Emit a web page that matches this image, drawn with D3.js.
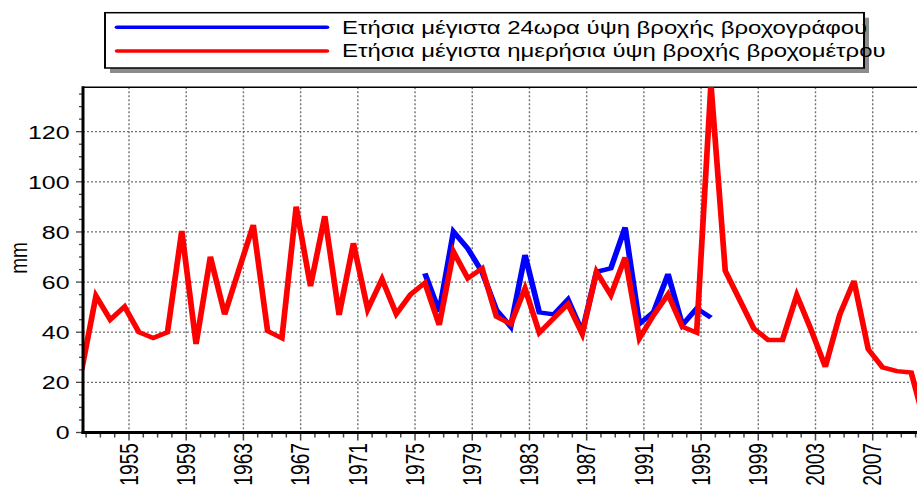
<!DOCTYPE html>
<html>
<head>
<meta charset="utf-8">
<script src="https://cdn.jsdelivr.net/npm/d3@7"></script>
<style>
  html, body { margin: 0; padding: 0; background: #fff; }
  svg { display: block; }
  text { font-family: "Liberation Sans", Arial, sans-serif; fill: #000; }
</style>
</head>
<body>
<svg id="chart"></svg>
<script>
// ---------------- data ----------------
const redYears = d3.range(1952, 2012);
const redValues = [
  25, 54.5, 45, 50.2, 40, 37.7, 40, 80.4, 35.3, 70.1,
  47.1, 65, 82.8, 40.5, 37.6, 90.1, 58.4, 86.3, 46.9, 75.5,
  49.1, 61.2, 47.3, 55.1, 59.7, 42.9, 72.1, 61.5, 65.5, 46.2,
  43.3, 57.5, 39.8, 45.5, 51.2, 39.3, 64.1, 54.8, 69.9, 37.6,
  46.9, 55.1, 42.2, 39.8, 139, 64.5, 53, 41.5, 36.9, 36.9,
  54.8, 41, 26.2, 46.9, 60.5, 33.2, 26, 24.5, 23.9, 3
];
const blueYears = d3.range(1976, 1997);
const blueValues = [
  63.5, 48.2, 80.1, 73.4, 64, 48.9, 42.2, 70.8, 47.9, 47.1,
  53.1, 40.2, 64.1, 65.5, 81.8, 43.3, 48.2, 63.2, 42.9, 49.5, 45.8
];
const yTicks = [0, 20, 40, 60, 80, 100, 120];
const xTickYears = d3.range(1955, 2008, 4);
const legendLabels = [
  "Ετήσια μέγιστα 24ωρα ύψη βροχής βροχογράφου",
  "Ετήσια μέγιστα ημερήσια ύψη βροχής βροχομέτρου"
];
const seriesColors = ["#0000ff", "#ff0000"];

// ---------------- layout ----------------
const W = 917, H = 486;
const S = 1.3;                 // horizontal stretch of the picture
const X = p => p / S;          // screen px -> viewBox units
const plot = { left: 83, right: 940, top: 87.3, bottom: 432.5 };
const yearShift = 0.31;        // data points sit slightly before the year tick

const svg = d3.select("#chart")
  .attr("width", W).attr("height", H)
  .attr("viewBox", `0 0 ${W / S} ${H}`)
  .attr("preserveAspectRatio", "none");

const x = d3.scaleLinear().domain([1955, 2007]).range([X(129), X(872.7)]);
const y = d3.scaleLinear().domain([0, 137.7]).range([plot.bottom, plot.top]);

svg.append("defs").append("clipPath").attr("id", "clip")
  .append("rect")
  .attr("x", X(plot.left)).attr("y", plot.top)
  .attr("width", X(plot.right) - X(plot.left))
  .attr("height", plot.bottom - plot.top);

// gridlines
const grid = svg.append("g").attr("stroke", "#707070");
grid.selectAll("line.h").data(yTicks.filter(d => d > 0)).join("line")
  .attr("x1", X(plot.left)).attr("x2", X(plot.right))
  .attr("y1", d => y(d)).attr("y2", d => y(d))
  .attr("stroke-width", 1.3)
  .attr("stroke-dasharray", `${X(2)},${X(2)}`);
grid.selectAll("line.v").data(xTickYears).join("line")
  .attr("x1", d => x(d)).attr("x2", d => x(d))
  .attr("y1", plot.top).attr("y2", plot.bottom)
  .attr("stroke-width", X(1.4))
  .attr("stroke-dasharray", "2,2");

// top border
svg.append("line")
  .attr("x1", X(plot.left)).attr("x2", X(plot.right))
  .attr("y1", plot.top).attr("y2", plot.top)
  .attr("stroke", "#000").attr("stroke-width", 1.6);

// series
const line = d3.line().x(d => x(d[0] - yearShift)).y(d => y(d[1]));
const lines = svg.append("g").attr("clip-path", "url(#clip)");
lines.append("path")
  .datum(d3.zip(blueYears, blueValues))
  .attr("d", line).attr("fill", "none")
  .attr("stroke", seriesColors[0]).attr("stroke-width", 4.4)
  .attr("stroke-linejoin", "miter");
lines.append("path")
  .datum(d3.zip(redYears, redValues))
  .attr("d", line).attr("fill", "none")
  .attr("stroke", seriesColors[1]).attr("stroke-width", 4.4)
  .attr("stroke-linejoin", "miter");

// y axis
const yMinor = d3.range(0, 138, 5);
svg.append("g").selectAll("line").data(yMinor).join("line")
  .attr("x1", d => X(d % 20 === 0 ? 76 : 79)).attr("x2", X(plot.left))
  .attr("y1", d => y(d)).attr("y2", d => y(d))
  .attr("stroke", "#444").attr("stroke-width", 1.3);
svg.append("line")
  .attr("x1", X(plot.left)).attr("x2", X(plot.left))
  .attr("y1", plot.top - 1).attr("y2", plot.bottom + 1.5)
  .attr("stroke", "#000").attr("stroke-width", X(3));
svg.append("g").selectAll("text").data(yTicks).join("text")
  .attr("x", X(69.5)).attr("y", d => y(d)).attr("dy", "0.36em")
  .attr("text-anchor", "end").attr("font-size", 19.2)
  .text(d => d);
svg.append("text")
  .attr("transform", `translate(${X(18)},258) rotate(-90)`)
  .attr("text-anchor", "middle").attr("dy", "0.35em")
  .attr("font-size", 19).text("mm");

// x axis
const xMinor = d3.range(1952, 2012);
svg.append("g").selectAll("line").data(xMinor).join("line")
  .attr("x1", d => x(d)).attr("x2", d => x(d))
  .attr("y1", plot.bottom)
  .attr("y2", d => plot.bottom + (xTickYears.includes(d) ? 8 : 5))
  .attr("stroke", "#444").attr("stroke-width", X(1.5));
svg.append("line")
  .attr("x1", X(plot.left) - X(1.5)).attr("x2", X(plot.right))
  .attr("y1", plot.bottom).attr("y2", plot.bottom)
  .attr("stroke", "#000").attr("stroke-width", 3);
svg.append("g").selectAll("text").data(xTickYears).join("text")
  .attr("transform", d => `translate(${x(d)},443) rotate(-90)`)
  .attr("text-anchor", "end").attr("dy", "0.35em")
  .attr("font-size", 19.2).text(d => d);

// legend
const lg = { left: 105, right: 864, top: 12.7, bottom: 68 };
svg.append("rect")
  .attr("x", X(lg.left + 5)).attr("y", lg.top + 5)
  .attr("width", X(lg.right - lg.left)).attr("height", lg.bottom - lg.top)
  .attr("fill", "#8c8c8c");
svg.append("rect")
  .attr("x", X(lg.left)).attr("y", lg.top)
  .attr("width", X(lg.right - lg.left)).attr("height", lg.bottom - lg.top)
  .attr("fill", "#fff").attr("stroke", "#000").attr("stroke-width", 1.5);
const rows = [27.3, 51];
legendLabels.forEach((lab, i) => {
  svg.append("line")
    .attr("x1", X(117)).attr("x2", X(327))
    .attr("y1", rows[i]).attr("y2", rows[i])
    .attr("stroke", seriesColors[i]).attr("stroke-width", 3.6)
    .attr("stroke-linecap", "round");
  svg.append("text")
    .attr("x", X(342)).attr("y", rows[i]).attr("dy", "0.35em")
    .attr("font-size", 18.4).text(lab);
});
</script>
</body>
</html>
